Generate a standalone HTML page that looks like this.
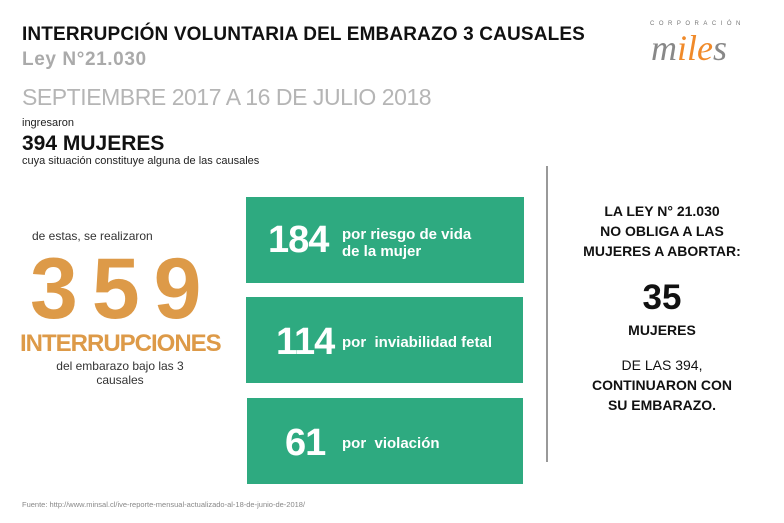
<!DOCTYPE html>
<html><head><meta charset="utf-8"><style>
body{margin:0;width:784px;height:523px;background:#fff;position:relative;overflow:hidden;font-family:"Liberation Sans",sans-serif}
.a{position:absolute;white-space:nowrap}
.box{position:absolute;background:#2eaa80;color:#fff}
.box .n{position:absolute;font-weight:bold;font-size:38px;letter-spacing:-1px}
.box .t{position:absolute;font-weight:bold;font-size:15px;line-height:17px}
.c{position:absolute;left:562px;width:200px;text-align:center;color:#111}
</style></head><body>
<div class="a" style="left:22px;top:24px;font-size:19px;font-weight:bold;color:#111;letter-spacing:0.15px">INTERRUPCIÓN VOLUNTARIA DEL EMBARAZO 3 CAUSALES</div>
<div class="a" style="left:22px;top:49px;font-size:19px;font-weight:bold;color:#aaa;letter-spacing:0.6px">Ley N°21.030</div>
<div class="a" style="left:22px;top:84px;font-size:23px;color:#b5b5b5;letter-spacing:-0.45px">SEPTIEMBRE 2017 A 16 DE JULIO 2018</div>
<div class="a" style="left:22px;top:117px;font-size:11px;color:#222">ingresaron</div>
<div class="a" style="left:22px;top:132px;font-size:21px;font-weight:bold;color:#111">394 MUJERES</div>
<div class="a" style="left:22px;top:155px;font-size:11px;color:#222">cuya situación constituye alguna de las causales</div>
<div class="a" style="left:650px;top:21px;font-size:6px;letter-spacing:4.5px;color:#777">CORPORACIÓN</div>
<div class="a" style="left:651px;top:27px;font-size:36px;font-family:'Liberation Serif',serif;color:#888;font-style:italic;letter-spacing:0px">m<span style="color:#f08a2a">ile</span>s</div>
<div class="a" style="left:32px;top:229px;font-size:12px;color:#333">de estas, se realizaron</div>
<div class="a" style="left:30px;top:240px;font-size:86px;font-weight:bold;color:#dd9a48;letter-spacing:14px">359</div>
<div class="a" style="left:20px;top:330px;font-size:24px;font-weight:bold;color:#dd9a48;letter-spacing:-1px">INTERRUPCIONES</div>
<div class="a" style="left:20px;top:359px;width:200px;text-align:center;font-size:12px;line-height:14px;color:#333;white-space:normal">del embarazo bajo las 3<br>causales</div>
<div class="box" style="left:246px;top:197px;width:278px;height:86px"><div class="n" style="left:22px;top:22px">184</div><div class="t" style="left:96px;top:29px">por riesgo de vida<br>de la mujer</div></div>
<div class="box" style="left:246px;top:297px;width:277px;height:86px"><div class="n" style="left:30px;top:24px">114</div><div class="t" style="left:96px;top:37px">por &nbsp;inviabilidad fetal</div></div>
<div class="box" style="left:247px;top:398px;width:276px;height:86px"><div class="n" style="left:38px;top:24px">61</div><div class="t" style="left:95px;top:37px">por &nbsp;violación</div></div>
<div class="a" style="left:546px;top:166px;width:2px;height:296px;background:#999"></div>
<div class="c" style="top:201px;font-size:14px;font-weight:bold;line-height:20px">LA LEY N° 21.030<br>NO OBLIGA A LAS<br>MUJERES A ABORTAR:</div>
<div class="c" style="top:278px;font-size:35px;font-weight:bold">35</div>
<div class="c" style="top:322px;font-size:14px;font-weight:bold">MUJERES</div>
<div class="c" style="top:355px;font-size:14px;line-height:20px">DE LAS 394,<br><b>CONTINUARON CON<br>SU EMBARAZO.</b></div>
<div class="a" style="left:22px;top:500px;font-size:7.5px;color:#888">Fuente: http://www.minsal.cl/ive-reporte-mensual-actualizado-al-18-de-junio-de-2018/</div>
</body></html>
